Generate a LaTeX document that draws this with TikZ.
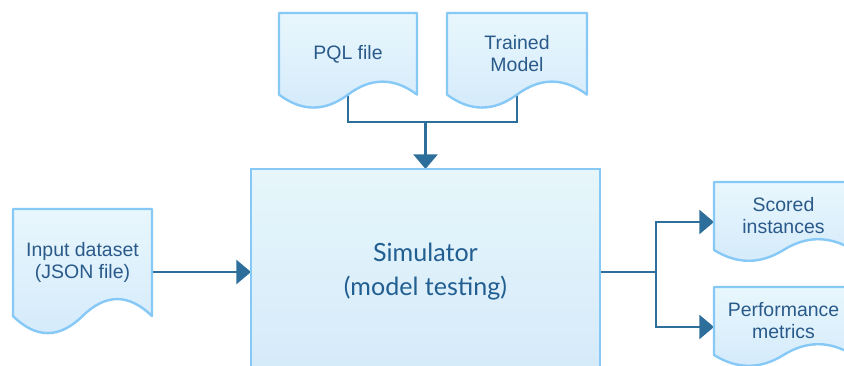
\documentclass[tikz,border=0pt]{standalone}
\usepackage{fontspec}
\setmainfont{Liberation Sans}
\newfontfamily\latofont{Lato}
\usetikzlibrary{arrows.meta}
\definecolor{docTop}{HTML}{E8F7FC}
\definecolor{docBot}{HTML}{D4EAFB}
\definecolor{docLine}{HTML}{86C9F7}
\definecolor{connCol}{HTML}{2E6E9A}
\definecolor{txtCol}{HTML}{2A5A8A}
\definecolor{simTxt}{HTML}{215E91}
\definecolor{simTop}{HTML}{E6F6FA}
\definecolor{simBot}{HTML}{D5EAFA}
\pgfdeclarelayer{conn}
\pgfdeclarelayer{shapes}
\pgfsetlayers{conn,shapes,main}
\tikzset{
  docfill/.style={top color=docTop, bottom color=docBot, draw=docLine, line width=1.8pt, line join=round},
  doctext/.style={text=txtCol, font=\fontsize{14.6}{16.5}\selectfont, align=center, inner sep=0pt},
  area/.style={inner sep=0pt, outer sep=0pt},
  simbox/.style={top color=simTop, bottom color=simBot, draw=docLine, line width=1.8pt, inner sep=0pt, outer sep=0pt,
    text=simTxt, font=\latofont\fontsize{18.8}{25.5}\selectfont, align=center},
  conn/.style={draw=connCol, line width=2pt},
  tipped/.style={-{Triangle[length=11pt,width=18pt]}},
}
% #1 name, #2 x-left, #3 top, #4 width, #5 height, #6 text
\newcommand\docshape[6]{%
  \pgfmathsetmacro\dcXL{#2}%
  \pgfmathsetmacro\dcXR{#2+#4}%
  \pgfmathsetmacro\dcXM{#2+#4/2}%
  \pgfmathsetmacro\dcXA{#2+#4-#4/6}%
  \pgfmathsetmacro\dcXB{#2+#4/2+#4/6}%
  \pgfmathsetmacro\dcXC{#2+#4/2-#4/6}%
  \pgfmathsetmacro\dcXD{#2+#4/6}%
  \pgfmathsetmacro\dcD{0.3*#5}%
  \pgfmathsetmacro\dcYE{#3+#5-\dcD/2}%
  \pgfmathsetmacro\dcYU{\dcYE+2/3*(-0.9*\dcD)}%
  \pgfmathsetmacro\dcYL{\dcYE+2/3*(0.9*\dcD)}%
  \pgfmathsetmacro\dcYT{(#3+\dcYE)/2}%
  \pgfmathsetmacro\dcYC{#3+#5/2}%
  \pgfmathsetmacro\dcW{0.75*#4}%
  \pgfmathsetmacro\dcH{0.75*#5}%
  \begin{pgfonlayer}{shapes}
    \path[docfill] (\dcXL,#3) -- (\dcXR,#3) -- (\dcXR,\dcYE)
      .. controls (\dcXA,\dcYU) and (\dcXB,\dcYU) .. (\dcXM,\dcYE)
      .. controls (\dcXC,\dcYL) and (\dcXD,\dcYL) .. (\dcXL,\dcYE) -- cycle;
  \end{pgfonlayer}
  \node[area, minimum width={\dcW pt}, minimum height={\dcH pt}] (#1) at (\dcXM,\dcYC) {};
  \node[doctext] (#1-t) at (\dcXM,\dcYT) {#6};
}
\begin{document}
\begin{tikzpicture}[x=0.75pt,y=-0.75pt]
  \useasboundingbox (0,0) rectangle (844,365);
  \clip (0,0) rectangle (844,365);

  \docshape{pql}{279}{13}{138}{96}{PQL file}
  \docshape{tm}{447}{13}{140}{96}{Trained\\Model}
  \docshape{inp}{13}{209}{139}{126}{Input dataset\\(JSON file)}
  \docshape{sc}{714}{182}{139}{80}{Scored\\instances}
  \docshape{pm}{714}{287}{139}{80}{Performance\\metrics}

  \begin{pgfonlayer}{shapes}
    \node[simbox, minimum width=261.75pt, minimum height=154.5pt] (sim) at (425.5,272)
      {Simulator\\(model testing)};
  \end{pgfonlayer}

  \begin{pgfonlayer}{conn}
    \coordinate (jt) at (425.5,122);
    \coordinate (jo) at (656,272);
    \draw[conn] (pql.center) |- (jt) -| (tm.center);
    \draw[conn, tipped] (jt) -- (sim.north);
    \draw[conn, tipped] (inp.center) -- (sim.west);
    \draw[conn] (sim.east) -- (jo);
    \draw[conn, tipped] (jo) |- (sc.west);
    \draw[conn, tipped] (jo) |- (pm.west);
  \end{pgfonlayer}
\end{tikzpicture}
\end{document}
